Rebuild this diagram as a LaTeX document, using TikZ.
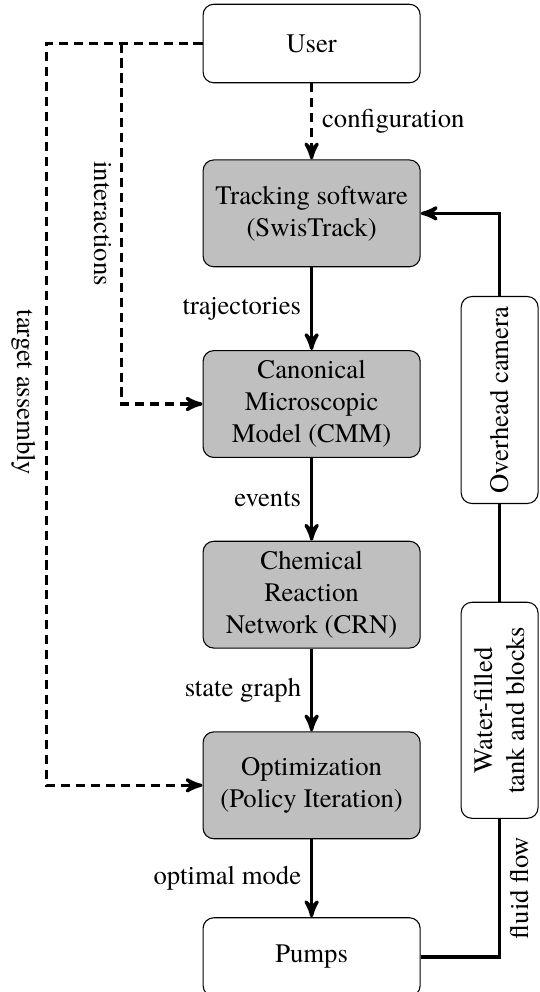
\documentclass[tikz,border=0pt]{standalone}
\usepackage{fontspec}
\setmainfont{TeX Gyre Termes}
\usetikzlibrary{positioning, arrows}

\begin{document}
\begin{tikzpicture}[>=stealth', node distance=31pt, auto,
  block/.style={draw, rounded corners=4pt, minimum width=81.3pt, align=center},
  graybox/.style={block, fill=gray!50, minimum height=40pt},
  whitebox/.style={block, fill=white, minimum height=29.4pt},
  sidebox/.style={draw, rounded corners=4pt, fill=white, rotate=90, minimum height=28.8pt, align=center},
  flow/.style={very thick},
  dashflow/.style={very thick, dash pattern=on 3.4pt off 2.2pt}]
  \useasboundingbox (0,0) rectangle (202.2pt,-371.5pt);

  \node[whitebox] (user) at (116.7pt,-16.3pt) {User};
  \node[graybox, below=28.5pt of user] (track) {Tracking software\\(SwisTrack)};
  \node[graybox, below=of track] (cmm) {Canonical\\Microscopic\\Model (CMM)};
  \node[graybox, below=of cmm] (crn) {Chemical\\Reaction\\Network (CRN)};
  \node[graybox, below=of crn] (opt) {Optimization\\(Policy Iteration)};
  \node[whitebox, below=29.2pt of opt] (pumps) {Pumps};
  \node[sidebox, minimum width=77.5pt] (cam) at ([xshift=70.4pt, yshift=1.5pt]cmm.center) {Overhead camera};
  \node[sidebox, minimum width=80.9pt] (tank) at ([xshift=70.4pt, yshift=28.1pt]opt.center) {Water-filled\\tank and blocks};

  \coordinate[left=30.3pt of user.west] (fork);
  \coordinate[left=58.4pt of user.west] (corner);

  \path[->, flow]
  (user) edge[dashflow] node {configuration} (track)
  (track) edge node[left] {trajectories} (cmm)
  (cmm) edge node[left] {events} (crn)
  (crn) edge node[left] {state graph} (opt)
  (opt) edge node[left] {optimal mode} (pumps);

  % user feedback on the left
  \draw[dashflow, ->] (user.west) -- (corner) |- node[pos=0.235, rotate=-90, anchor=north] {target assembly} (opt.west);
  \draw[dashflow, ->] (fork) |- node[pos=0.25, rotate=-90, anchor=north] {interactions} (cmm.west);

  % physical loop on the right
  \draw[flow] (pumps) -| node[pos=0.75, rotate=90, anchor=north] {fluid flow} (tank);
  \draw[flow] (tank) -- (cam);
  \draw[flow, ->] (cam) |- (track);
\end{tikzpicture}
\end{document}
